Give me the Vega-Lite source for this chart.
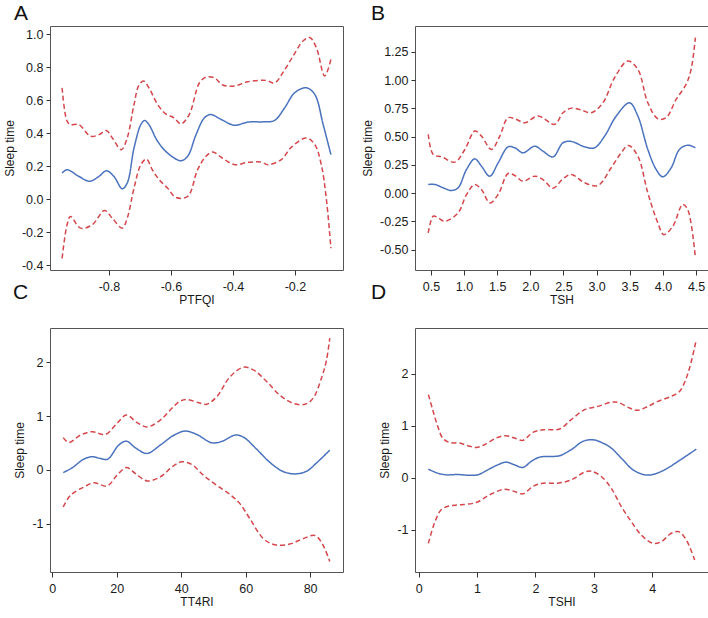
{
  "$schema": "https://vega.github.io/schema/vega-lite/v6.json",
  "padding": {"left": 2, "top": 2, "right": 2, "bottom": 2},
  "background": "white",
  "columns": 2,
  "align": "each",
  "spacing": {"row": -25, "column": 17},
  "datasets": {
    "A": [
      {"x": -0.951, "y": 0.158, "s": "fit"}, {"x": -0.935, "y": 0.178, "s": "fit"}, {"x": -0.897, "y": 0.138, "s": "fit"}, {"x": -0.862, "y": 0.108, "s": "fit"}, {"x": -0.832, "y": 0.138, "s": "fit"}, {"x": -0.808, "y": 0.172, "s": "fit"}, {"x": -0.784, "y": 0.138, "s": "fit"}, {"x": -0.757, "y": 0.063, "s": "fit"}, {"x": -0.741, "y": 0.097, "s": "fit"}, {"x": -0.719, "y": 0.31, "s": "fit"}, {"x": -0.697, "y": 0.452, "s": "fit"}, {"x": -0.685, "y": 0.477, "s": "fit"}, {"x": -0.671, "y": 0.452, "s": "fit"}, {"x": -0.643, "y": 0.351, "s": "fit"}, {"x": -0.611, "y": 0.28, "s": "fit"}, {"x": -0.568, "y": 0.233, "s": "fit"}, {"x": -0.546, "y": 0.26, "s": "fit"}, {"x": -0.519, "y": 0.391, "s": "fit"}, {"x": -0.492, "y": 0.493, "s": "fit"}, {"x": -0.471, "y": 0.513, "s": "fit"}, {"x": -0.438, "y": 0.483, "s": "fit"}, {"x": -0.395, "y": 0.448, "s": "fit"}, {"x": -0.352, "y": 0.467, "s": "fit"}, {"x": -0.298, "y": 0.469, "s": "fit"}, {"x": -0.266, "y": 0.477, "s": "fit"}, {"x": -0.233, "y": 0.554, "s": "fit"}, {"x": -0.201, "y": 0.645, "s": "fit"}, {"x": -0.163, "y": 0.675, "s": "fit"}, {"x": -0.136, "y": 0.635, "s": "fit"}, {"x": -0.109, "y": 0.452, "s": "fit"}, {"x": -0.084, "y": 0.27, "s": "fit"},
      {"x": -0.951, "y": 0.675, "s": "upper"}, {"x": -0.935, "y": 0.473, "s": "upper"}, {"x": -0.924, "y": 0.452, "s": "upper"}, {"x": -0.897, "y": 0.452, "s": "upper"}, {"x": -0.859, "y": 0.381, "s": "upper"}, {"x": -0.832, "y": 0.391, "s": "upper"}, {"x": -0.808, "y": 0.416, "s": "upper"}, {"x": -0.789, "y": 0.371, "s": "upper"}, {"x": -0.76, "y": 0.3, "s": "upper"}, {"x": -0.741, "y": 0.371, "s": "upper"}, {"x": -0.719, "y": 0.574, "s": "upper"}, {"x": -0.703, "y": 0.692, "s": "upper"}, {"x": -0.688, "y": 0.716, "s": "upper"}, {"x": -0.671, "y": 0.675, "s": "upper"}, {"x": -0.643, "y": 0.574, "s": "upper"}, {"x": -0.617, "y": 0.517, "s": "upper"}, {"x": -0.59, "y": 0.493, "s": "upper"}, {"x": -0.568, "y": 0.456, "s": "upper"}, {"x": -0.541, "y": 0.513, "s": "upper"}, {"x": -0.508, "y": 0.706, "s": "upper"}, {"x": -0.487, "y": 0.74, "s": "upper"}, {"x": -0.46, "y": 0.736, "s": "upper"}, {"x": -0.433, "y": 0.692, "s": "upper"}, {"x": -0.395, "y": 0.686, "s": "upper"}, {"x": -0.352, "y": 0.712, "s": "upper"}, {"x": -0.293, "y": 0.72, "s": "upper"}, {"x": -0.266, "y": 0.704, "s": "upper"}, {"x": -0.239, "y": 0.767, "s": "upper"}, {"x": -0.206, "y": 0.868, "s": "upper"}, {"x": -0.174, "y": 0.959, "s": "upper"}, {"x": -0.152, "y": 0.98, "s": "upper"}, {"x": -0.131, "y": 0.919, "s": "upper"}, {"x": -0.104, "y": 0.746, "s": "upper"}, {"x": -0.084, "y": 0.848, "s": "upper"},
      {"x": -0.951, "y": -0.359, "s": "lower"}, {"x": -0.935, "y": -0.156, "s": "lower"}, {"x": -0.924, "y": -0.105, "s": "lower"}, {"x": -0.892, "y": -0.176, "s": "lower"}, {"x": -0.854, "y": -0.156, "s": "lower"}, {"x": -0.814, "y": -0.069, "s": "lower"}, {"x": -0.789, "y": -0.116, "s": "lower"}, {"x": -0.757, "y": -0.176, "s": "lower"}, {"x": -0.741, "y": -0.116, "s": "lower"}, {"x": -0.719, "y": 0.067, "s": "lower"}, {"x": -0.697, "y": 0.209, "s": "lower"}, {"x": -0.679, "y": 0.243, "s": "lower"}, {"x": -0.66, "y": 0.178, "s": "lower"}, {"x": -0.638, "y": 0.118, "s": "lower"}, {"x": -0.611, "y": 0.067, "s": "lower"}, {"x": -0.584, "y": 0.01, "s": "lower"}, {"x": -0.546, "y": 0.016, "s": "lower"}, {"x": -0.514, "y": 0.178, "s": "lower"}, {"x": -0.487, "y": 0.26, "s": "lower"}, {"x": -0.465, "y": 0.286, "s": "lower"}, {"x": -0.438, "y": 0.254, "s": "lower"}, {"x": -0.395, "y": 0.209, "s": "lower"}, {"x": -0.352, "y": 0.223, "s": "lower"}, {"x": -0.309, "y": 0.225, "s": "lower"}, {"x": -0.287, "y": 0.209, "s": "lower"}, {"x": -0.244, "y": 0.239, "s": "lower"}, {"x": -0.212, "y": 0.314, "s": "lower"}, {"x": -0.163, "y": 0.371, "s": "lower"}, {"x": -0.136, "y": 0.331, "s": "lower"}, {"x": -0.115, "y": 0.209, "s": "lower"}, {"x": -0.099, "y": 0.006, "s": "lower"}, {"x": -0.084, "y": -0.298, "s": "lower"}
    ],
    "B": [
      {"x": 0.46, "y": 0.077, "s": "fit"}, {"x": 0.56, "y": 0.077, "s": "fit"}, {"x": 0.686, "y": 0.047, "s": "fit"}, {"x": 0.81, "y": 0.024, "s": "fit"}, {"x": 0.91, "y": 0.047, "s": "fit"}, {"x": 1.037, "y": 0.21, "s": "fit"}, {"x": 1.162, "y": 0.304, "s": "fit"}, {"x": 1.263, "y": 0.239, "s": "fit"}, {"x": 1.388, "y": 0.15, "s": "fit"}, {"x": 1.514, "y": 0.268, "s": "fit"}, {"x": 1.664, "y": 0.41, "s": "fit"}, {"x": 1.765, "y": 0.402, "s": "fit"}, {"x": 1.89, "y": 0.357, "s": "fit"}, {"x": 2.066, "y": 0.416, "s": "fit"}, {"x": 2.19, "y": 0.372, "s": "fit"}, {"x": 2.342, "y": 0.321, "s": "fit"}, {"x": 2.492, "y": 0.446, "s": "fit"}, {"x": 2.618, "y": 0.458, "s": "fit"}, {"x": 2.819, "y": 0.41, "s": "fit"}, {"x": 2.969, "y": 0.402, "s": "fit"}, {"x": 3.12, "y": 0.505, "s": "fit"}, {"x": 3.296, "y": 0.683, "s": "fit"}, {"x": 3.496, "y": 0.8, "s": "fit"}, {"x": 3.622, "y": 0.683, "s": "fit"}, {"x": 3.772, "y": 0.387, "s": "fit"}, {"x": 3.898, "y": 0.21, "s": "fit"}, {"x": 3.998, "y": 0.145, "s": "fit"}, {"x": 4.124, "y": 0.224, "s": "fit"}, {"x": 4.249, "y": 0.387, "s": "fit"}, {"x": 4.374, "y": 0.425, "s": "fit"}, {"x": 4.49, "y": 0.402, "s": "fit"},
      {"x": 0.46, "y": 0.52, "s": "upper"}, {"x": 0.535, "y": 0.343, "s": "upper"}, {"x": 0.661, "y": 0.322, "s": "upper"}, {"x": 0.861, "y": 0.275, "s": "upper"}, {"x": 1.012, "y": 0.387, "s": "upper"}, {"x": 1.162, "y": 0.55, "s": "upper"}, {"x": 1.263, "y": 0.505, "s": "upper"}, {"x": 1.413, "y": 0.387, "s": "upper"}, {"x": 1.539, "y": 0.505, "s": "upper"}, {"x": 1.664, "y": 0.668, "s": "upper"}, {"x": 1.79, "y": 0.653, "s": "upper"}, {"x": 1.915, "y": 0.623, "s": "upper"}, {"x": 2.116, "y": 0.683, "s": "upper"}, {"x": 2.367, "y": 0.609, "s": "upper"}, {"x": 2.492, "y": 0.712, "s": "upper"}, {"x": 2.618, "y": 0.753, "s": "upper"}, {"x": 2.769, "y": 0.736, "s": "upper"}, {"x": 2.919, "y": 0.712, "s": "upper"}, {"x": 3.095, "y": 0.8, "s": "upper"}, {"x": 3.27, "y": 1.022, "s": "upper"}, {"x": 3.471, "y": 1.17, "s": "upper"}, {"x": 3.622, "y": 1.096, "s": "upper"}, {"x": 3.772, "y": 0.8, "s": "upper"}, {"x": 3.923, "y": 0.659, "s": "upper"}, {"x": 4.048, "y": 0.668, "s": "upper"}, {"x": 4.199, "y": 0.83, "s": "upper"}, {"x": 4.349, "y": 0.963, "s": "upper"}, {"x": 4.425, "y": 1.096, "s": "upper"}, {"x": 4.49, "y": 1.377, "s": "upper"},
      {"x": 0.46, "y": -0.352, "s": "lower"}, {"x": 0.535, "y": -0.204, "s": "lower"}, {"x": 0.61, "y": -0.219, "s": "lower"}, {"x": 0.711, "y": -0.248, "s": "lower"}, {"x": 0.91, "y": -0.174, "s": "lower"}, {"x": 1.037, "y": -0.012, "s": "lower"}, {"x": 1.162, "y": 0.077, "s": "lower"}, {"x": 1.263, "y": 0.033, "s": "lower"}, {"x": 1.388, "y": -0.086, "s": "lower"}, {"x": 1.514, "y": -0.012, "s": "lower"}, {"x": 1.664, "y": 0.174, "s": "lower"}, {"x": 1.765, "y": 0.157, "s": "lower"}, {"x": 1.89, "y": 0.106, "s": "lower"}, {"x": 2.066, "y": 0.151, "s": "lower"}, {"x": 2.19, "y": 0.121, "s": "lower"}, {"x": 2.342, "y": 0.044, "s": "lower"}, {"x": 2.492, "y": 0.127, "s": "lower"}, {"x": 2.618, "y": 0.166, "s": "lower"}, {"x": 2.819, "y": 0.092, "s": "lower"}, {"x": 3.019, "y": 0.068, "s": "lower"}, {"x": 3.22, "y": 0.225, "s": "lower"}, {"x": 3.371, "y": 0.358, "s": "lower"}, {"x": 3.481, "y": 0.423, "s": "lower"}, {"x": 3.622, "y": 0.328, "s": "lower"}, {"x": 3.772, "y": 0.003, "s": "lower"}, {"x": 3.923, "y": -0.263, "s": "lower"}, {"x": 4.013, "y": -0.367, "s": "lower"}, {"x": 4.149, "y": -0.293, "s": "lower"}, {"x": 4.299, "y": -0.1, "s": "lower"}, {"x": 4.374, "y": -0.145, "s": "lower"}, {"x": 4.49, "y": -0.574, "s": "lower"}
    ],
    "C": [
      {"x": 3.4, "y": -0.05, "s": "fit"}, {"x": 6.2, "y": 0.04, "s": "fit"}, {"x": 9.8, "y": 0.2, "s": "fit"}, {"x": 12.4, "y": 0.245, "s": "fit"}, {"x": 14.7, "y": 0.215, "s": "fit"}, {"x": 17.2, "y": 0.2, "s": "fit"}, {"x": 20.6, "y": 0.46, "s": "fit"}, {"x": 23, "y": 0.535, "s": "fit"}, {"x": 25.8, "y": 0.41, "s": "fit"}, {"x": 29.4, "y": 0.306, "s": "fit"}, {"x": 33.5, "y": 0.461, "s": "fit"}, {"x": 37.6, "y": 0.64, "s": "fit"}, {"x": 41.2, "y": 0.722, "s": "fit"}, {"x": 44.8, "y": 0.66, "s": "fit"}, {"x": 49.5, "y": 0.504, "s": "fit"}, {"x": 52.6, "y": 0.53, "s": "fit"}, {"x": 56.7, "y": 0.647, "s": "fit"}, {"x": 59.3, "y": 0.61, "s": "fit"}, {"x": 63.4, "y": 0.386, "s": "fit"}, {"x": 67.5, "y": 0.14, "s": "fit"}, {"x": 71.6, "y": -0.03, "s": "fit"}, {"x": 75.3, "y": -0.075, "s": "fit"}, {"x": 78.9, "y": -0.025, "s": "fit"}, {"x": 82, "y": 0.13, "s": "fit"}, {"x": 86.1, "y": 0.367, "s": "fit"},
      {"x": 3.4, "y": 0.6, "s": "upper"}, {"x": 5.2, "y": 0.51, "s": "upper"}, {"x": 8.8, "y": 0.65, "s": "upper"}, {"x": 12.4, "y": 0.71, "s": "upper"}, {"x": 16.5, "y": 0.66, "s": "upper"}, {"x": 20.1, "y": 0.865, "s": "upper"}, {"x": 23, "y": 1.02, "s": "upper"}, {"x": 26.3, "y": 0.88, "s": "upper"}, {"x": 29.4, "y": 0.8, "s": "upper"}, {"x": 33.5, "y": 0.927, "s": "upper"}, {"x": 37.6, "y": 1.176, "s": "upper"}, {"x": 39.7, "y": 1.28, "s": "upper"}, {"x": 41.8, "y": 1.31, "s": "upper"}, {"x": 45.4, "y": 1.25, "s": "upper"}, {"x": 47.9, "y": 1.22, "s": "upper"}, {"x": 51, "y": 1.36, "s": "upper"}, {"x": 55.2, "y": 1.735, "s": "upper"}, {"x": 59.3, "y": 1.91, "s": "upper"}, {"x": 62.4, "y": 1.86, "s": "upper"}, {"x": 66.5, "y": 1.645, "s": "upper"}, {"x": 70.6, "y": 1.39, "s": "upper"}, {"x": 74.7, "y": 1.24, "s": "upper"}, {"x": 78.4, "y": 1.22, "s": "upper"}, {"x": 80.9, "y": 1.33, "s": "upper"}, {"x": 83.5, "y": 1.705, "s": "upper"}, {"x": 85, "y": 2.02, "s": "upper"}, {"x": 86.1, "y": 2.45, "s": "upper"},
      {"x": 3.4, "y": -0.69, "s": "lower"}, {"x": 5.7, "y": -0.47, "s": "lower"}, {"x": 9.8, "y": -0.32, "s": "lower"}, {"x": 12.9, "y": -0.24, "s": "lower"}, {"x": 17, "y": -0.3, "s": "lower"}, {"x": 20.1, "y": -0.1, "s": "lower"}, {"x": 23, "y": 0.044, "s": "lower"}, {"x": 25.8, "y": -0.068, "s": "lower"}, {"x": 29.4, "y": -0.205, "s": "lower"}, {"x": 33.5, "y": -0.13, "s": "lower"}, {"x": 37.6, "y": 0.075, "s": "lower"}, {"x": 40.2, "y": 0.15, "s": "lower"}, {"x": 43.3, "y": 0.1, "s": "lower"}, {"x": 46.9, "y": -0.1, "s": "lower"}, {"x": 51, "y": -0.286, "s": "lower"}, {"x": 55.2, "y": -0.46, "s": "lower"}, {"x": 58.2, "y": -0.628, "s": "lower"}, {"x": 61.3, "y": -0.908, "s": "lower"}, {"x": 65.5, "y": -1.28, "s": "lower"}, {"x": 69.1, "y": -1.394, "s": "lower"}, {"x": 73.7, "y": -1.38, "s": "lower"}, {"x": 77.8, "y": -1.28, "s": "lower"}, {"x": 81.4, "y": -1.22, "s": "lower"}, {"x": 83.5, "y": -1.344, "s": "lower"}, {"x": 86.1, "y": -1.705, "s": "lower"}
    ],
    "D": [
      {"x": 0.166, "y": 0.167, "s": "fit"}, {"x": 0.326, "y": 0.09, "s": "fit"}, {"x": 0.469, "y": 0.058, "s": "fit"}, {"x": 0.669, "y": 0.064, "s": "fit"}, {"x": 0.84, "y": 0.051, "s": "fit"}, {"x": 1.011, "y": 0.058, "s": "fit"}, {"x": 1.183, "y": 0.154, "s": "fit"}, {"x": 1.354, "y": 0.25, "s": "fit"}, {"x": 1.497, "y": 0.302, "s": "fit"}, {"x": 1.64, "y": 0.25, "s": "fit"}, {"x": 1.783, "y": 0.199, "s": "fit"}, {"x": 1.926, "y": 0.315, "s": "fit"}, {"x": 2.069, "y": 0.398, "s": "fit"}, {"x": 2.24, "y": 0.411, "s": "fit"}, {"x": 2.411, "y": 0.424, "s": "fit"}, {"x": 2.611, "y": 0.54, "s": "fit"}, {"x": 2.811, "y": 0.7, "s": "fit"}, {"x": 2.983, "y": 0.732, "s": "fit"}, {"x": 3.154, "y": 0.668, "s": "fit"}, {"x": 3.297, "y": 0.572, "s": "fit"}, {"x": 3.497, "y": 0.347, "s": "fit"}, {"x": 3.669, "y": 0.154, "s": "fit"}, {"x": 3.869, "y": 0.058, "s": "fit"}, {"x": 4.011, "y": 0.064, "s": "fit"}, {"x": 4.211, "y": 0.154, "s": "fit"}, {"x": 4.44, "y": 0.315, "s": "fit"}, {"x": 4.754, "y": 0.552, "s": "fit"},
      {"x": 0.166, "y": 1.6, "s": "upper"}, {"x": 0.24, "y": 1.31, "s": "upper"}, {"x": 0.326, "y": 0.99, "s": "upper"}, {"x": 0.411, "y": 0.764, "s": "upper"}, {"x": 0.526, "y": 0.68, "s": "upper"}, {"x": 0.697, "y": 0.668, "s": "upper"}, {"x": 0.84, "y": 0.617, "s": "upper"}, {"x": 0.983, "y": 0.584, "s": "upper"}, {"x": 1.126, "y": 0.636, "s": "upper"}, {"x": 1.326, "y": 0.764, "s": "upper"}, {"x": 1.497, "y": 0.81, "s": "upper"}, {"x": 1.64, "y": 0.764, "s": "upper"}, {"x": 1.783, "y": 0.72, "s": "upper"}, {"x": 1.954, "y": 0.873, "s": "upper"}, {"x": 2.154, "y": 0.925, "s": "upper"}, {"x": 2.411, "y": 0.938, "s": "upper"}, {"x": 2.611, "y": 1.118, "s": "upper"}, {"x": 2.84, "y": 1.31, "s": "upper"}, {"x": 3.069, "y": 1.374, "s": "upper"}, {"x": 3.297, "y": 1.452, "s": "upper"}, {"x": 3.411, "y": 1.452, "s": "upper"}, {"x": 3.611, "y": 1.342, "s": "upper"}, {"x": 3.754, "y": 1.297, "s": "upper"}, {"x": 3.926, "y": 1.374, "s": "upper"}, {"x": 4.097, "y": 1.47, "s": "upper"}, {"x": 4.326, "y": 1.567, "s": "upper"}, {"x": 4.469, "y": 1.663, "s": "upper"}, {"x": 4.583, "y": 1.92, "s": "upper"}, {"x": 4.669, "y": 2.24, "s": "upper"}, {"x": 4.754, "y": 2.66, "s": "upper"},
      {"x": 0.166, "y": -1.26, "s": "lower"}, {"x": 0.269, "y": -0.873, "s": "lower"}, {"x": 0.383, "y": -0.617, "s": "lower"}, {"x": 0.526, "y": -0.54, "s": "lower"}, {"x": 0.697, "y": -0.52, "s": "lower"}, {"x": 0.983, "y": -0.475, "s": "lower"}, {"x": 1.211, "y": -0.328, "s": "lower"}, {"x": 1.469, "y": -0.218, "s": "lower"}, {"x": 1.64, "y": -0.263, "s": "lower"}, {"x": 1.783, "y": -0.308, "s": "lower"}, {"x": 1.954, "y": -0.167, "s": "lower"}, {"x": 2.126, "y": -0.103, "s": "lower"}, {"x": 2.383, "y": -0.103, "s": "lower"}, {"x": 2.611, "y": -0.039, "s": "lower"}, {"x": 2.84, "y": 0.109, "s": "lower"}, {"x": 2.954, "y": 0.128, "s": "lower"}, {"x": 3.126, "y": 0.026, "s": "lower"}, {"x": 3.297, "y": -0.199, "s": "lower"}, {"x": 3.469, "y": -0.552, "s": "lower"}, {"x": 3.64, "y": -0.841, "s": "lower"}, {"x": 3.811, "y": -1.098, "s": "lower"}, {"x": 4.011, "y": -1.259, "s": "lower"}, {"x": 4.154, "y": -1.227, "s": "lower"}, {"x": 4.326, "y": -1.066, "s": "lower"}, {"x": 4.451, "y": -1.034, "s": "lower"}, {"x": 4.583, "y": -1.195, "s": "lower"}, {"x": 4.726, "y": -1.58, "s": "lower"}
    ]
  },
  "concat": [
    {
      "title": {"text": "A", "dx": -36, "offset": 2},
      "width": 293, "height": 244,
      "data": {"name": "A"},
      "mark": {"type": "line", "interpolate": "catmull-rom"},
      "encoding": {
        "x": {"field": "x", "type": "quantitative", "title": "PTFQI", "scale": {"domain": [-0.99, -0.045], "nice": false, "zero": false}, "axis": {"values": [-0.8, -0.6, -0.4, -0.2], "labelExpr": "replace(format(datum.value, '.1f'), '\u2212', '-')"}},
        "y": {"field": "y", "type": "quantitative", "title": "Sleep time", "scale": {"domain": [-0.43, 1.05], "nice": false, "zero": false}, "axis": {"values": [-0.4, -0.2, 0, 0.2, 0.4, 0.6, 0.8, 1.0], "labelExpr": "replace(format(datum.value, '.1f'), '\u2212', '-')"}},
        "color": {"field": "s", "type": "nominal", "scale": {"domain": ["fit", "upper", "lower"], "range": ["#4a72bd", "#d4474c", "#d4474c"]}, "legend": null},
        "strokeDash": {"field": "s", "type": "nominal", "scale": {"domain": ["fit", "upper", "lower"], "range": [[1, 0], [5, 3], [5, 3]]}, "legend": null}
      }
    },
    {
      "title": {"text": "B", "dx": -44, "offset": 2},
      "width": 293, "height": 244,
      "data": {"name": "B"},
      "mark": {"type": "line", "interpolate": "catmull-rom"},
      "encoding": {
        "x": {"field": "x", "type": "quantitative", "title": "TSH", "scale": {"domain": [0.26, 4.68], "nice": false, "zero": false}, "axis": {"values": [0.5, 1, 1.5, 2, 2.5, 3, 3.5, 4, 4.5], "format": ".1f"}},
        "y": {"field": "y", "type": "quantitative", "title": "Sleep time", "scale": {"domain": [-0.68, 1.48], "nice": false, "zero": false}, "axis": {"values": [-0.5, -0.25, 0, 0.25, 0.5, 0.75, 1, 1.25], "labelExpr": "replace(format(datum.value, '.2f'), '\u2212', '-')"}},
        "color": {"field": "s", "type": "nominal", "scale": {"domain": ["fit", "upper", "lower"], "range": ["#4a72bd", "#d4474c", "#d4474c"]}, "legend": null},
        "strokeDash": {"field": "s", "type": "nominal", "scale": {"domain": ["fit", "upper", "lower"], "range": [[1, 0], [5, 3], [5, 3]]}, "legend": null}
      }
    },
    {
      "title": {"text": "C", "dx": -37, "offset": 25},
      "width": 293, "height": 244,
      "data": {"name": "C"},
      "mark": {"type": "line", "interpolate": "catmull-rom"},
      "encoding": {
        "x": {"field": "x", "type": "quantitative", "title": "TT4RI", "scale": {"domain": [-0.7, 90.2], "nice": false, "zero": false}, "axis": {"values": [0, 20, 40, 60, 80], "format": "d"}},
        "y": {"field": "y", "type": "quantitative", "title": "Sleep time", "scale": {"domain": [-1.9, 2.64], "nice": false, "zero": false}, "axis": {"values": [-1, 0, 1, 2], "labelExpr": "replace(format(datum.value, 'd'), '\u2212', '-')"}},
        "color": {"field": "s", "type": "nominal", "scale": {"domain": ["fit", "upper", "lower"], "range": ["#4a72bd", "#d4474c", "#d4474c"]}, "legend": null},
        "strokeDash": {"field": "s", "type": "nominal", "scale": {"domain": ["fit", "upper", "lower"], "range": [[1, 0], [5, 3], [5, 3]]}, "legend": null}
      }
    },
    {
      "title": {"text": "D", "dx": -44, "offset": 25},
      "width": 293, "height": 244,
      "data": {"name": "D"},
      "mark": {"type": "line", "interpolate": "catmull-rom"},
      "encoding": {
        "x": {"field": "x", "type": "quantitative", "title": "TSHI", "scale": {"domain": [-0.063, 4.954], "nice": false, "zero": false}, "axis": {"values": [0, 1, 2, 3, 4], "format": "d"}},
        "y": {"field": "y", "type": "quantitative", "title": "Sleep time", "scale": {"domain": [-1.81, 2.88], "nice": false, "zero": false}, "axis": {"values": [-1, 0, 1, 2], "labelExpr": "replace(format(datum.value, 'd'), '\u2212', '-')"}},
        "color": {"field": "s", "type": "nominal", "scale": {"domain": ["fit", "upper", "lower"], "range": ["#4a72bd", "#d4474c", "#d4474c"]}, "legend": null},
        "strokeDash": {"field": "s", "type": "nominal", "scale": {"domain": ["fit", "upper", "lower"], "range": [[1, 0], [5, 3], [5, 3]]}, "legend": null}
      }
    }
  ],
  "config": {
    "view": {"stroke": "#555555", "strokeWidth": 1},
    "axis": {"domain": false, "grid": false, "tickColor": "#333333", "tickSize": 4, "labelFont": "Liberation Sans", "labelFontSize": 12.5, "labelColor": "#1a1a1a", "titleFont": "Liberation Sans", "titleFontSize": 12, "titleFontWeight": "normal", "titleColor": "#1a1a1a"},
    "axisX": {"labelPadding": 5, "titlePadding": 2, "tickSize": 5},
    "axisY": {"labelPadding": 3, "titlePadding": 5},
    "title": {"font": "Liberation Sans", "fontSize": 21, "fontWeight": "normal", "anchor": "start", "frame": "group", "color": "#111111"},
    "line": {"strokeWidth": 1.5}
  }
}
